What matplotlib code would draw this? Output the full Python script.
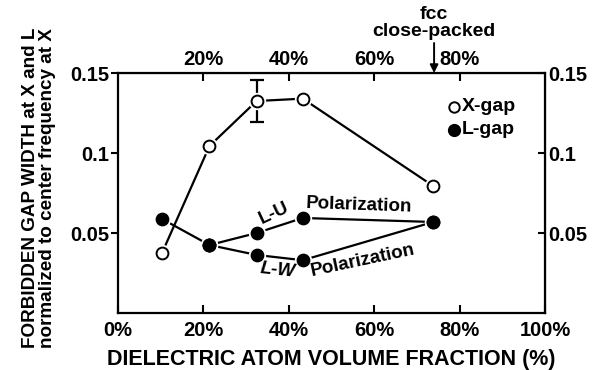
import numpy as np
import matplotlib.pyplot as plt

plt.rcParams['font.family'] = ['Liberation Sans', 'DejaVu Sans']
plt.rcParams['font.weight'] = 'bold'

# X-gap
x_gap_frac = [10.4, 21.5, 32.5, 43.3, 73.8]
x_gap_val = [0.0375, 0.1044, 0.1325, 0.1340, 0.0794]
x_gap_err_lo = [0, 0, 0.0131, 0, 0]
x_gap_err_hi = [0, 0, 0.0131, 0, 0]

# L-gap: common start, then two branches
l_common_frac = [10.4, 21.5]
l_common_val = [0.0588, 0.0425]
lu_frac = [21.5, 32.5, 43.3, 73.8]
lu_val = [0.0425, 0.0500, 0.0594, 0.0569]
lw_frac = [21.5, 32.5, 43.3, 73.8]
lw_val = [0.0425, 0.0363, 0.0330, 0.0569]

bottom_ticks = [0, 20, 40, 60, 80, 100]
top_ticks = [20, 40, 60, 80]
y_ticks = [0.05, 0.1, 0.15]
y_ticklabels = ['0.05', '0.1', '0.15']
fcc_frac = 74.0

fig = plt.figure(figsize=(5.95, 3.70), dpi=100)
ax = fig.add_axes([0.1975, 0.154, 0.719, 0.6486])

def draw_series(xs, ys, filled):
    ax.plot(xs, ys, color='black', lw=1.6, zorder=2)
    ax.plot(xs, ys, ls='none', marker='o', ms=11.5, mfc='white', mec='white', zorder=3)
    ax.plot(xs, ys, ls='none', marker='o', ms=8.5,
            mfc='black' if filled else 'white', mec='black', mew=1.4, zorder=4)

ax.errorbar(x_gap_frac[2], x_gap_val[2], yerr=[[x_gap_err_lo[2]], [x_gap_err_hi[2]]],
            fmt='none', ecolor='black', elinewidth=1.6, capsize=5, capthick=1.6, zorder=2)
draw_series(x_gap_frac, x_gap_val, False)
draw_series(l_common_frac, l_common_val, True)
draw_series(lu_frac, lu_val, True)
draw_series(lw_frac, lw_val, True)

ax.set_xlim(0, 100)
ax.set_ylim(0, 0.15)
ax.set_xticks(bottom_ticks)
ax.set_xticklabels([f'{t}%' for t in bottom_ticks], fontsize=14.5, fontweight='bold')
ax.set_yticks(y_ticks)
ax.set_yticklabels(y_ticklabels, fontsize=14.5, fontweight='bold')
ax.tick_params(axis='x', direction='in', length=6, width=1.5, pad=6)
ax.tick_params(axis='y', direction='out', length=5, width=1.5, pad=1)
for s in ax.spines.values():
    s.set_linewidth(1.6)

top = ax.secondary_xaxis('top')
top.set_xticks(top_ticks)
top.set_xticklabels([f'{t}%' for t in top_ticks], fontsize=14.5, fontweight='bold')
top.tick_params(direction='in', length=6, width=1.5, pad=3)

right = ax.secondary_yaxis('right')
right.set_yticks(y_ticks)
right.set_yticklabels(y_ticklabels, fontsize=14.5, fontweight='bold')
right.tick_params(direction='in', length=5, width=1.5, pad=2)

ax.set_xlabel('DIELECTRIC ATOM VOLUME FRACTION (%)', fontsize=15.5, fontweight='bold')
ax.xaxis.set_label_coords(0.5, -0.15)
ax.set_ylabel('FORBIDDEN GAP WIDTH at X and L\nnormalized to center frequency at X',
              fontsize=13.6, fontweight='bold', linespacing=1.0)
ax.yaxis.set_label_coords(-0.143, 0.52)

# legend drawn by hand
ax.plot([78.7], [0.1288], ls='none', marker='o', ms=7.5, mfc='white', mec='black', mew=1.4)
ax.plot([78.7], [0.1144], ls='none', marker='o', ms=8.5, mfc='black', mec='black')
ax.text(80.4, 0.1288, 'X-gap', fontsize=14, va='center', ha='left')
ax.text(80.4, 0.1144, 'L-gap', fontsize=14, va='center', ha='left')

# branch labels
ax.text(36.5, 0.0625, 'L-U', fontsize=13.5, rotation=25, ha='center', va='center')
ax.text(37.4, 0.0269, 'L-W', fontsize=13.5, rotation=-6, ha='center', va='center', style='italic')
ax.text(56.4, 0.0675, 'Polarization', fontsize=13.5, rotation=-2, ha='center', va='center')
ax.text(57.3, 0.0331, 'Polarization', fontsize=13.5, rotation=12, ha='center', va='center')

ax.annotate('fcc\nclose-packed', xy=(fcc_frac, 0.15), xytext=(fcc_frac, 0.1705),
            textcoords='data', ha='center', va='bottom', fontsize=14, linespacing=1.0,
            annotation_clip=False,
            arrowprops=dict(arrowstyle='-|>', color='black', lw=1.4, mutation_scale=12,
                            shrinkA=0, shrinkB=0))

fig.savefig('out.png', dpi=100)
